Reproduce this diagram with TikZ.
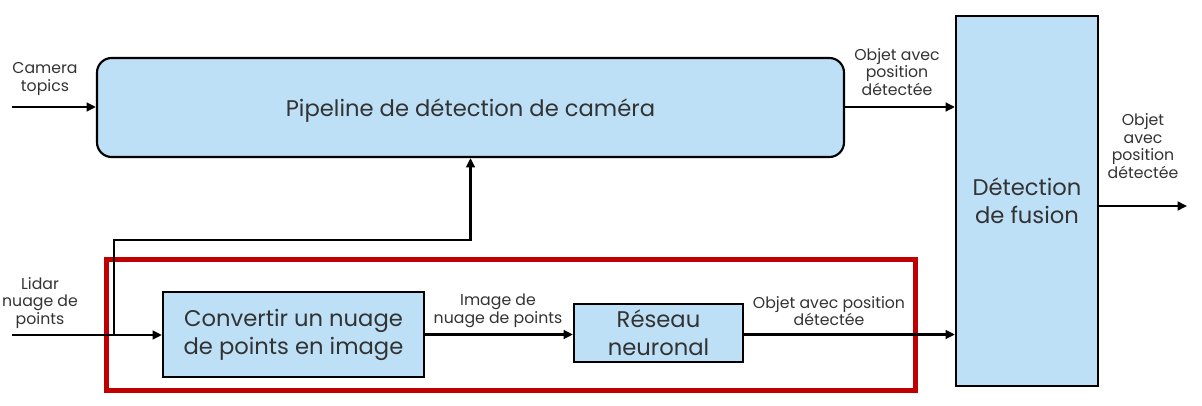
\documentclass[tikz,border=0pt]{standalone}
\usepackage{fontspec}
\setmainfont{Poppins}
\usetikzlibrary{arrows.meta,calc}
\definecolor{boxblue}{HTML}{BDE0F7}
\definecolor{txtgray}{HTML}{333333}
\definecolor{frame}{HTML}{C00000}
\tikzset{
  blk/.style={draw=black,line width=1.6pt,fill=boxblue,align=center,text=txtgray,font=\fontsize{17}{21}\selectfont,inner sep=0pt},
  lbl/.style={align=center,text=txtgray,font=\fontsize{11.8}{13.3}\selectfont,inner sep=0pt},
  arr/.style={line width=2.2pt,-{Triangle[length=7pt,width=6.5pt]}},
  ln/.style={line width=2.2pt}
}
\begin{document}
\begin{tikzpicture}[x=0.75pt,y=-0.75pt]
\useasboundingbox (0,0) rectangle (1202,406);
% red frame
\draw[frame,line width=3.75pt] (106,259) rectangle (915,390);
% blocks
\node[blk,rounded corners=11pt,minimum width=560.25pt,minimum height=74.25pt] (pipe) at (470.5,107.5) {\raisebox{-6.5pt}[0pt][0pt]{Pipeline de détection de caméra}};
\node[blk,minimum width=106.5pt,minimum height=277.5pt] (fus) at (1027,201) {Détection\\de fusion};
\node[blk,minimum width=195.75pt,minimum height=63.75pt] (conv) at (293.5,334.5) {Convertir un nuage\\de points en image};
\node[blk,minimum width=126.75pt,minimum height=43.5pt] (res) at (658.5,333) {Réseau\\neuronal};
% free ends
\coordinate (cin) at (12,107);
\coordinate (lin) at (12,335);
\coordinate (br) at (114,335);
\coordinate (bt) at (114,240);
\coordinate (out) at (1187,206);
% labels
\node[lbl] (lcam) at (45,79) {Camera\\topics};
\node[lbl] (llid) at (40,303) {Lidar\\nuage de\\points};
\node[lbl] (lobj1) at (897,72) {Objet avec\\position\\détectée};
\node[lbl] (lobj2) at (1143,146) {Objet\\avec\\position\\détectée};
\node[lbl] (limg) at (498,311) {Image de\\nuage de points};
\node[lbl] (lobj3) at (829,311) {Objet avec position\\détectée};
% connectors
\draw[arr] (cin) -- (pipe.west |- cin);
\draw[arr] (lin) -- (conv.west |- lin);
\draw[arr] (br) -- (bt) -| (pipe.south);
\draw[arr] (pipe.east |- cin) -- (fus.west |- cin);
\draw[arr] (conv.east) -- (res.west |- conv.east);
\draw[arr] (res.east |- conv.east) -- (fus.west |- conv.east);
\draw[arr] (fus.east |- out) -- (out);
\end{tikzpicture}
\end{document}
